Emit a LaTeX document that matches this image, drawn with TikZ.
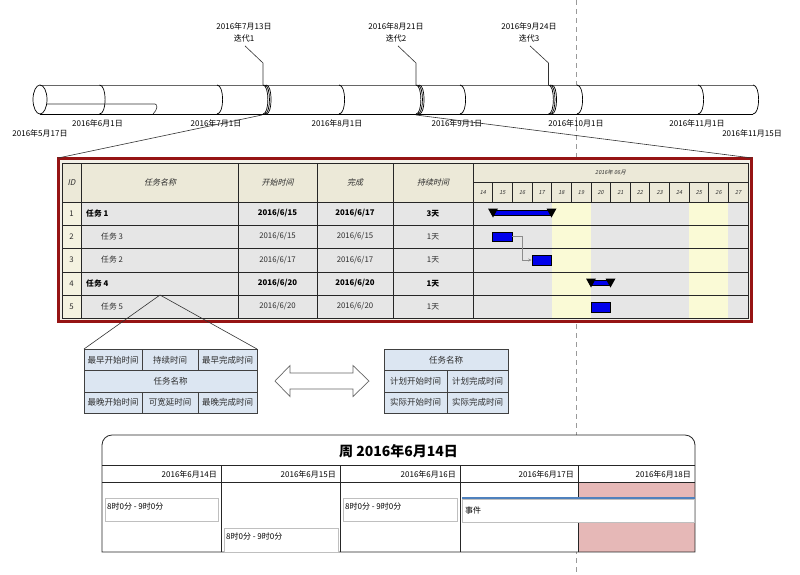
\documentclass[tikz,border=0pt]{standalone}
\usepackage{fontspec}
\setmainfont{Noto Sans CJK SC}
\newfontfamily\itcjk{Noto Sans CJK SC}[FakeSlant=0.22]
\usetikzlibrary{arrows.meta}
\definecolor{hdr}{RGB}{236,233,216}
\definecolor{idc}{RGB}{244,242,224}
\definecolor{rowg}{RGB}{230,230,230}
\definecolor{wkend}{RGB}{250,250,214}
\definecolor{framered}{RGB}{150,20,20}
\definecolor{tblbg}{RGB}{242,240,232}
\definecolor{boxb}{RGB}{220,230,242}
\definecolor{pinkc}{RGB}{230,184,183}
\definecolor{evblue}{RGB}{79,129,189}
\definecolor{barblue}{RGB}{0,0,235}
\definecolor{txtg}{RGB}{45,45,45}
\tikzset{
  t8/.style={inner sep=0pt, font=\fontsize{8}{9}\selectfont},
  tit/.style={inner sep=0pt, font=\itcjk\fontsize{8}{9}\selectfont, text=txtg},
  tday/.style={inner sep=0pt, font=\itcjk\fontsize{5.5}{6}\selectfont, text=txtg},
  tb/.style={inner sep=0pt, font=\bfseries\fontsize{7.8}{8}\selectfont},
  tn/.style={inner sep=0pt, font=\fontsize{7.8}{8}\selectfont, text=txtg},
  tbox/.style={inner sep=0pt, font=\fontsize{8.5}{9}\selectfont, text=txtg},
  tlarc/.style={draw=black, line width=0.7pt},
  leader/.style={draw=black!80, line width=0.6pt},
  gridl/.style={draw=black!85, line width=0.7pt},
  barbox/.style={fill=barblue, draw=black, line width=0.5pt},
  cellbox/.style={fill=boxb, draw=black!75, line width=0.7pt},
  appt/.style={fill=white, draw=black!25, line width=0.7pt},
  caltxt/.style={inner sep=0pt, font=\fontsize{8}{9}\selectfont},
}
\begin{document}
\begin{tikzpicture}[x=1pt,y=-1pt]
\useasboundingbox (0,0) rectangle (800,574);
\fill[white] (0,0) rectangle (800,574);
% dashed guide
\draw[black!40, line width=0.7pt, dash pattern=on 5pt off 4pt] (576,0) -- (576,574);

% ---------- timeline ----------
\fill[white] (40,85) rectangle (753,114);
\fill[white] (753,85) .. controls (760.7,85) and (760.7,114) .. (753,114) -- cycle;
\draw[black!60, line width=0.8pt] (40,85) -- (753,85);
\draw[black, line width=0.8pt] (40,114) -- (753,114);
\draw[tlarc] (40,99.5) ellipse [x radius=7pt, y radius=14.5pt];
\draw[black!80, line width=0.6pt] (47,104) -- (155,104) .. controls (158,104) and (157.5,110) .. (153,114);
\foreach \x in {99.5,217,339,460,577,698,753}
  \draw[tlarc] (\x,85) .. controls ({\x+7.5},85) and ({\x+7.5},114) .. (\x,114);
\foreach \m in {263,416,548.5}
  \foreach \o in {0,1.6,3.2}
    \draw[tlarc] ({\m+\o},85) .. controls ({\m+\o+6.5},85) and ({\m+\o+6.5},114) .. ({\m+\o},114);

\node[t8] (dMay17) at (40,133) {2016年5月17日};
\node[t8] (dJun1) at (97.5,123) {2016年6月1日};
\node[t8] (dJul1) at (216,123) {2016年7月1日};
\node[t8] (dAug1) at (337,123) {2016年8月1日};
\node[t8] (dSep1) at (457,123) {2016年9月1日};
\node[t8] (dOct1) at (576,123) {2016年10月1日};
\node[t8] (dNov1) at (697,123) {2016年11月1日};
\node[t8] (dNov15) at (752,133) {2016年11月15日};

\node[t8] (m1d) at (244,26) {2016年7月13日};
\node[t8] (m1n) at (244,38) {迭代1};
\node[t8] (m2d) at (396,26) {2016年8月21日};
\node[t8] (m2n) at (396,38) {迭代2};
\node[t8] (m3d) at (529,26) {2016年9月24日};
\node[t8] (m3n) at (529,38) {迭代3};
\coordinate (m1top) at (263,85);
\coordinate (m2top) at (416,85);
\coordinate (m3top) at (548.5,85);
\coordinate (m1bot) at (262,115);
\coordinate (m2bot) at (416,115);
\draw[leader] (m1n.south) ++(1,4) -- (263,63) -- (m1top);
\draw[leader] (m2n.south) ++(2,4) -- (416,63) -- (m2top);
\draw[leader] (m3n.south) ++(1,4) -- (548.5,63) -- (m3top);

% ---------- table ----------
\coordinate (tTL) at (58,158);
\coordinate (tTR) at (752,158);
\fill[tblbg] (58,158) rectangle (752,322);
\fill[hdr] (62,163) rectangle (748,202);
\fill[idc] (62,202) rectangle (81,318);
\fill[rowg] (81,202) rectangle (748,318);
\fill[wkend] (551.5,202) rectangle (590.8,318);
\fill[wkend] (689,202) rectangle (728.3,318);
\draw[gridl] (62,163) rectangle (748,318);
\foreach \y in {202,225,248,272,295}
  \draw[gridl] (62,\y) -- (748,\y);
\foreach \x in {81,238,317,393,473}
  \draw[gridl] (\x,163) -- (\x,318);
\draw[gridl] (473,182) -- (748,182);
\foreach \k in {1,...,13}
  \draw[gridl] ({473+19.643*\k},182) -- ({473+19.643*\k},202);
\draw[framered, line width=2.6pt] (58.3,158.3) rectangle (751.7,321.7);

\node[tit] (hID) at (71.5,182.5) {ID};
\node[tit] (hName) at (160,182.5) {任务名称};
\node[tit] (hStart) at (277.5,182.5) {开始时间};
\node[tit] (hEnd) at (355,182.5) {完成};
\node[tit] (hDur) at (433,182.5) {持续时间};
\node[tday] (hMonth) at (610.5,172.5) {2016年 06月};
\foreach \d [count=\k from 0] in {14,...,27}
  \node[tday] (day\d) at ({482.8+19.643*\k},192.5) {\d};

% rows
\node[tn] (id1) at (71.5,213.5) {1};
\node[tb, anchor=west] (n1) at (86,213.5) {任务 1};
\node[tb] (s1) at (277.5,213.5) {2016/6/15};
\node[tb] (f1) at (355,213.5) {2016/6/17};
\node[tb] (u1) at (433,213.5) {3天};
\node[tn] (id2) at (71.5,236.5) {2};
\node[tn, anchor=west] (n2) at (101,236.5) {任务 3};
\node[tn] (s2) at (277.5,236.5) {2016/6/15};
\node[tn] (f2) at (355,236.5) {2016/6/15};
\node[tn] (u2) at (433,236.5) {1天};
\node[tn] (id3) at (71.5,260) {3};
\node[tn, anchor=west] (n3) at (101,260) {任务 2};
\node[tn] (s3) at (277.5,260) {2016/6/17};
\node[tn] (f3) at (355,260) {2016/6/17};
\node[tn] (u3) at (433,260) {1天};
\node[tn] (id4) at (71.5,283.5) {4};
\node[tb, anchor=west] (n4) at (86,283.5) {任务 4};
\node[tb] (s4) at (277.5,283.5) {2016/6/20};
\node[tb] (f4) at (355,283.5) {2016/6/20};
\node[tb] (u4) at (433,283.5) {1天};
\node[tn] (id5) at (71.5,306.5) {5};
\node[tn, anchor=west] (n5) at (101,306.5) {任务 5};
\node[tn] (s5) at (277.5,306.5) {2016/6/20};
\node[tn] (f5) at (355,306.5) {2016/6/20};
\node[tn] (u5) at (433,306.5) {1天};

% gantt bars
\draw[barbox] (493,210) rectangle (551.5,215.5);
\fill[black] (488,208.5) -- (498,208.5) -- (493,217.5) -- cycle;
\fill[black] (546.5,208.5) -- (556.5,208.5) -- (551.5,217.5) -- cycle;
\node[barbox, minimum width=19.6pt, minimum height=9pt, inner sep=0pt] (b3) at (502.4,236.5) {};
\node[barbox, minimum width=19.6pt, minimum height=10pt, inner sep=0pt] (b2) at (541.7,260) {};
\draw[black!45, line width=0.6pt, -{Stealth[length=3.5pt,width=3pt]}] (b3.east) -- (522,236.5) -- (522,260) -- (b2.west);
\draw[barbox] (591,280) rectangle (610.5,285.5);
\fill[black] (586,278.5) -- (596,278.5) -- (591,287.5) -- cycle;
\fill[black] (605.5,278.5) -- (615.5,278.5) -- (610.5,287.5) -- cycle;
\node[barbox, minimum width=19.6pt, minimum height=10pt, inner sep=0pt] (b5) at (600.8,307) {};

% zoom connectors
\draw[leader] (m1bot) -- (tTL);
\draw[leader] (m2bot) -- (tTR);

% ---------- node legend boxes ----------
\coordinate (rowpt) at (160,295);
\draw[cellbox] (84,349) rectangle (142,370.5);
\draw[cellbox] (142,349) rectangle (198,370.5);
\draw[cellbox] (198,349) rectangle (257,370.5);
\draw[cellbox] (84,370.5) rectangle (257,392);
\draw[cellbox] (84,392) rectangle (142,413);
\draw[cellbox] (142,392) rectangle (198,413);
\draw[cellbox] (198,392) rectangle (257,413);
\coordinate (lbTL) at (84,349);
\coordinate (lbTR) at (257,349);
\draw[leader] (rowpt) -- (lbTL);
\draw[leader] (rowpt) -- (lbTR);
\node[tbox] (es) at (113,360) {最早开始时间};
\node[tbox] (du) at (170,360) {持续时间};
\node[tbox] (ef) at (227.5,360) {最早完成时间};
\node[tbox] (tn1) at (170.5,381.5) {任务名称};
\node[tbox] (ls) at (113,402.5) {最晚开始时间};
\node[tbox] (sl) at (170,402.5) {可宽延时间};
\node[tbox] (lf) at (227.5,402.5) {最晚完成时间};

\draw[fill=white, draw=black!60, line width=0.7pt] (275,381) -- (290,365.5) -- (290,373) -- (353,373) -- (353,365.5) -- (369,381) -- (353,396.5) -- (353,389) -- (290,389) -- (290,396.5) -- cycle;

\draw[cellbox] (384,349) rectangle (508,370.5);
\draw[cellbox] (384,370.5) rectangle (447,392);
\draw[cellbox] (447,370.5) rectangle (508,392);
\draw[cellbox] (384,392) rectangle (447,413);
\draw[cellbox] (447,392) rectangle (508,413);
\node[tbox] (tn2) at (446,360) {任务名称};
\node[tbox] (ps) at (415.5,381.5) {计划开始时间};
\node[tbox] (pf) at (477.5,381.5) {计划完成时间};
\node[tbox] (as) at (415.5,402.5) {实际开始时间};
\node[tbox] (af) at (477.5,402.5) {实际完成时间};

% ---------- calendar ----------
\fill[white] (102,552) -- (102,445) .. controls (102,439.5) and (106.5,435) .. (112,435) -- (685,435) .. controls (690.5,435) and (695,439.5) .. (695,445) -- (695,552) -- cycle;
\fill[pinkc] (578,482) rectangle (695,552);
\draw[black!85, line width=0.8pt] (102,552) -- (102,445) .. controls (102,439.5) and (106.5,435) .. (112,435) -- (685,435) .. controls (690.5,435) and (695,439.5) .. (695,445) -- (695,552) -- cycle;
\draw[black!85, line width=0.8pt] (102,465) -- (695,465);
\draw[black!85, line width=0.8pt] (102,482) -- (695,482);
\foreach \x in {221,340,460,578}
  \draw[black!85, line width=0.8pt] (\x,465) -- (\x,552);
\node[inner sep=0pt, font=\bfseries\fontsize{14}{16}\selectfont] (ctitle) at (398.5,451) {周 2016年6月14日};
\node[caltxt, anchor=east] (c14) at (217,474) {2016年6月14日};
\node[caltxt, anchor=east] (c15) at (336,474) {2016年6月15日};
\node[caltxt, anchor=east] (c16) at (456,474) {2016年6月16日};
\node[caltxt, anchor=east] (c17) at (574,474) {2016年6月17日};
\node[caltxt, anchor=east] (c18) at (691,474) {2016年6月18日};
\draw[appt] (105,498) rectangle (218.5,521);
\node[caltxt, anchor=west] (a1) at (107,506) {8时0分 - 9时0分};
\draw[appt] (224,528) rectangle (338,552);
\node[caltxt, anchor=west] (a2) at (226,536) {8时0分 - 9时0分};
\draw[appt] (343,498) rectangle (457,521);
\node[caltxt, anchor=west] (a3) at (345,506) {8时0分 - 9时0分};
\draw[appt] (462,499) rectangle (694.5,522);
\draw[evblue, line width=2.2pt] (462,497.8) -- (694.5,497.8);
\node[caltxt, anchor=west] (ev) at (465,510) {事件};
\end{tikzpicture}
\end{document}
